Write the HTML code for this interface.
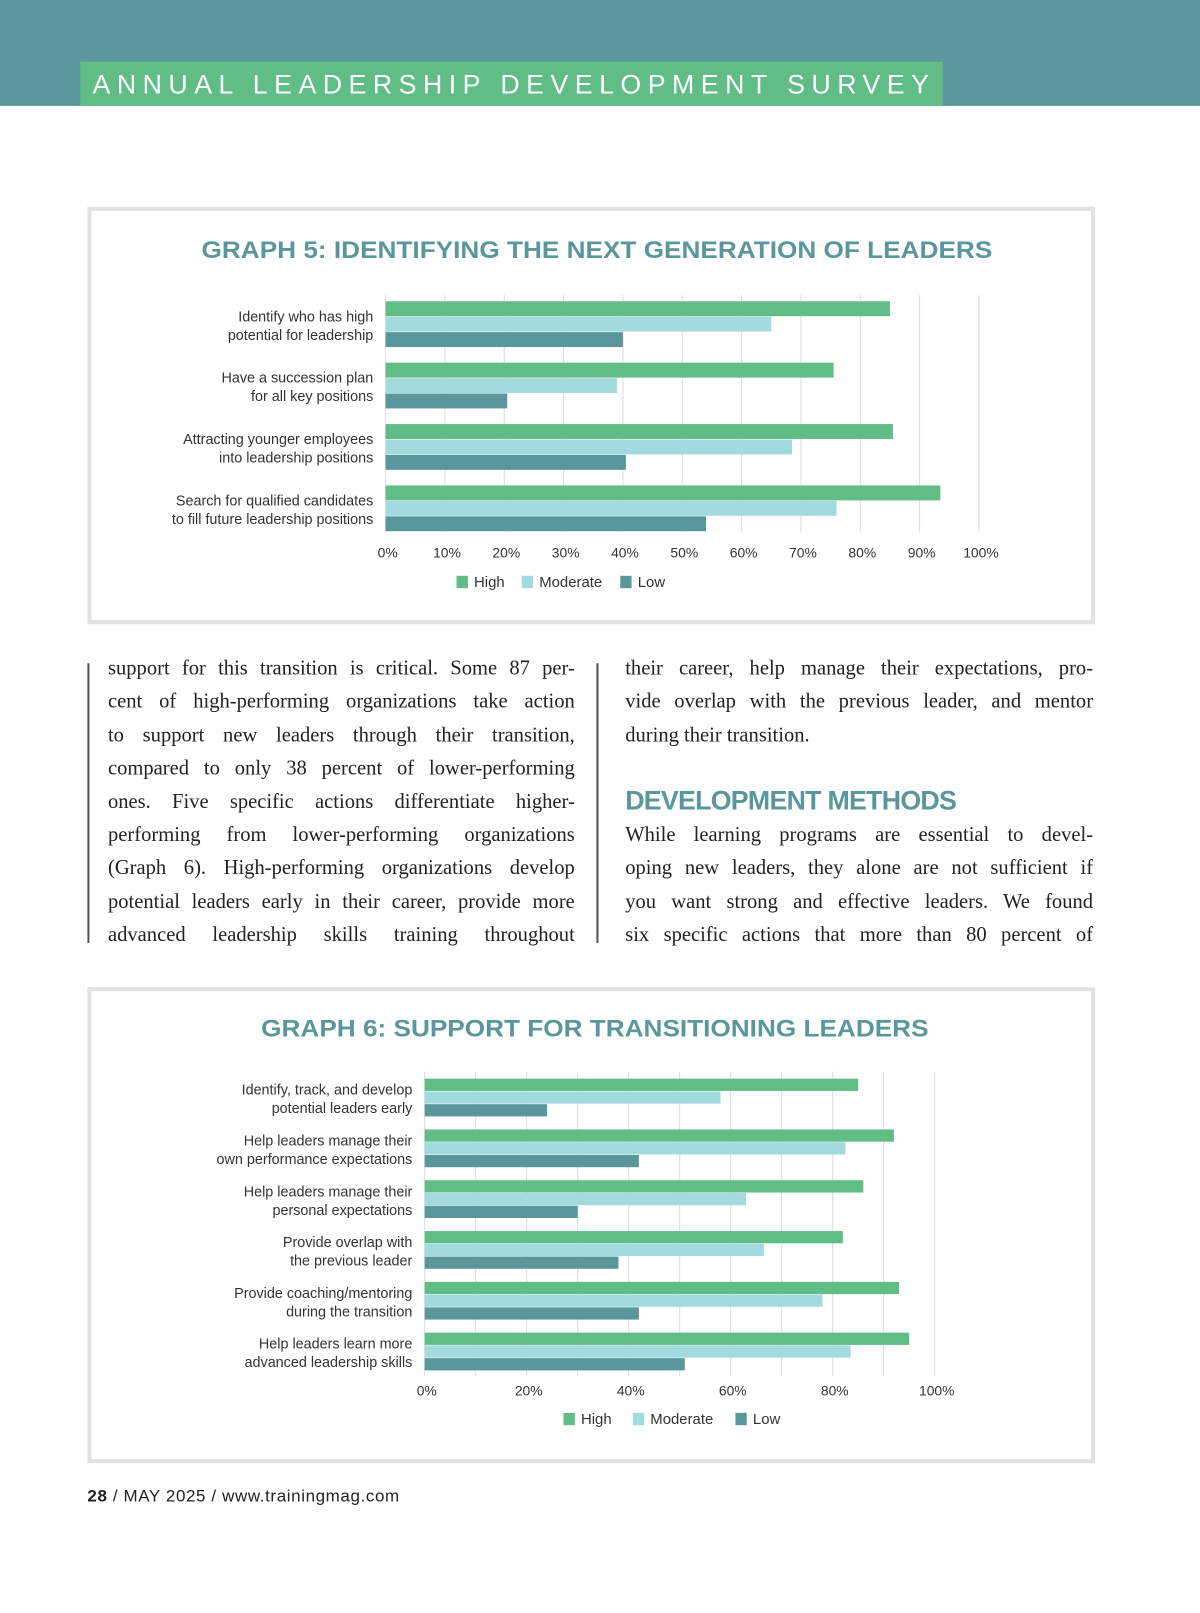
<!DOCTYPE html>
<html><head><meta charset="utf-8">
<style>
html,body{margin:0;padding:0;background:#fff;width:1200px;height:1613px;overflow:hidden}
#wrap{position:absolute;left:0;top:0;width:1167px;height:1569px;transform:scale(1.02828);transform-origin:0 0;font-family:"Liberation Sans",sans-serif}
.abs{position:absolute}
.col{position:absolute;font-family:"Liberation Serif",serif;font-size:20px;color:#222;line-height:32.4px}
.col div{text-align:justify;text-align-last:justify;white-space:nowrap;height:32.4px}
.col div.l{text-align-last:left}
.box{position:absolute;border:4px solid #e2e2e2;background:#fff;box-sizing:border-box}
</style></head><body>
<div id="wrap">
<div class="abs" style="left:0;top:0;width:1167px;height:103px;background:#5b979d"></div>
<div class="abs" style="left:78px;top:60px;width:839px;height:43px;background:#5fbd85;color:#fff;font-size:26px;letter-spacing:6.3px;line-height:44px;padding-left:12px;box-sizing:border-box;white-space:nowrap;overflow:hidden">ANNUAL LEADERSHIP DEVELOPMENT SURVEY</div>

<div class="box" style="left:85px;top:201px;width:980px;height:406px"></div>
<svg class="abs" id="g5" style="left:0;top:0" width="1167" height="620"></svg>

<div class="abs" style="left:85px;top:645px;width:1.5px;height:272px;background:#555"></div>
<div class="abs" style="left:580px;top:645px;width:1.5px;height:272px;background:#555"></div>
<div class="col" style="left:105px;top:634px;width:454px">
<div>support for this transition is critical. Some 87 per-</div>
<div>cent of high-performing organizations take action</div>
<div>to support new leaders through their transition,</div>
<div>compared to only 38 percent of lower-performing</div>
<div>ones. Five specific actions differentiate higher-</div>
<div>performing from lower-performing organizations</div>
<div>(Graph 6). High-performing organizations develop</div>
<div>potential leaders early in their career, provide more</div>
<div>advanced leadership skills training throughout</div>
</div>
<div class="col" style="left:608px;top:634px;width:455px">
<div>their career, help manage their expectations, pro-</div>
<div>vide overlap with the previous leader, and mentor</div>
<div class="l">during their transition.</div>
</div>
<div class="abs" style="left:608px;top:763px;font-size:26px;font-weight:bold;color:#5a979d;letter-spacing:-0.7px">DEVELOPMENT METHODS</div>
<div class="col" style="left:608px;top:796px;width:455px">
<div>While learning programs are essential to devel-</div>
<div>oping new leaders, they alone are not sufficient if</div>
<div>you want strong and effective leaders. We found</div>
<div>six specific actions that more than 80 percent of</div>
</div>

<div class="box" style="left:85px;top:960px;width:980px;height:463px"></div>
<svg class="abs" id="g6" style="left:0;top:0" width="1167" height="1430"></svg>

<div class="abs" style="left:85px;top:1446px;font-size:16.5px;color:#222;letter-spacing:0.6px"><b>28</b> / MAY 2025 / www.trainingmag.com</div>
</div>
<script>
const seriesNames=["High","Moderate","Low"];
const colors=["#5fbd85","#a3dade","#5a979d"];
const g5Cats=[["Identify who has high","potential for leadership"],["Have a succession plan","for all key positions"],["Attracting younger employees","into leadership positions"],["Search for qualified candidates","to fill future leadership positions"]];
const g5High=[85,75.5,85.5,93.5];
const g5Mod=[65,39,68.5,76];
const g5Low=[40,20.5,40.5,54];
const g5Ticks=[0,10,20,30,40,50,60,70,80,90,100];
const g6Cats=[["Identify, track, and develop","potential leaders early"],["Help leaders manage their","own performance expectations"],["Help leaders manage their","personal expectations"],["Provide overlap with","the previous leader"],["Provide coaching/mentoring","during the transition"],["Help leaders learn more","advanced leadership skills"]];
const g6High=[85,92,86,82,93,95];
const g6Mod=[58,82.5,63,66.5,78,83.5];
const g6Low=[24,42,30,38,42,51];
const g6Ticks=[0,20,40,60,80,100];
const g6Grid=[0,10,20,30,40,50,60,70,80,90,100];
const NS="http://www.w3.org/2000/svg";
function mk(svg,tag,attrs,text){const e=document.createElementNS(NS,tag);for(const k in attrs)e.setAttribute(k,attrs[k]);if(text!==undefined)e.textContent=text;svg.appendChild(e);return e;}
function chart(svg,o){
  const x=v=>o.x0+(o.x1-o.x0)*v/100;
  const t=mk(svg,'text',{x:o.tx,y:o.ty,'font-size':o.tfs,'font-weight':'bold',fill:'#5a979d','font-family':'Liberation Sans, sans-serif',textLength:o.tw,lengthAdjust:'spacingAndGlyphs'},o.title);
  
  
  o.grid.forEach(g=>{const l=mk(svg,'line',{x1:x(g),x2:x(g),y1:o.gTop,y2:o.gBot,stroke:'#dcdcdc','stroke-width':1});
    
    });
  const series=[o.high,o.mod,o.low];
  o.cats.forEach((c,i)=>{
    const gy=o.y0+i*o.step;
    series.forEach((s,j)=>{const r=mk(svg,'rect',{x:x(0),y:gy+j*o.bh,width:x(s[i])-x(0),height:o.bh-0.5,fill:colors[j]});
      
      });
    c.forEach((ln,k)=>{const tt=mk(svg,'text',{x:x(0)-12,y:gy+o.bh*1.5+(k===0?-3:o.lfs+1),'text-anchor':'end','font-size':o.lfs,fill:'#333','font-family':'Liberation Sans, sans-serif'},ln);
      
      });
  });
  o.ticks.forEach(v=>{const tt=mk(svg,'text',{x:x(v)+2,y:o.tickY,'text-anchor':'middle','font-size':13.5,fill:'#333','font-family':'Liberation Sans, sans-serif'},v+'%');
    
    });
  let lx=o.legX;
  seriesNames.forEach((n,j)=>{const r=mk(svg,'rect',{x:lx,y:o.legY-11,width:11,height:12,fill:colors[j]});
    
    
    const tt=mk(svg,'text',{x:lx+17,y:o.legY,'font-size':14.5,fill:'#333','font-family':'Liberation Sans, sans-serif'},n);
    
    
    lx+=17+n.length*8.1+o.legGap;});
}
chart(document.getElementById('g5'),{title:'GRAPH 5: IDENTIFYING THE NEXT GENERATION OF LEADERS',tx:196,tw:769,ty:251,tfs:23,x0:375,x1:952,gTop:287,gBot:517,y0:293,step:59.7,bh:15,cats:g5Cats,high:g5High,mod:g5Mod,low:g5Low,grid:g5Ticks,ticks:g5Ticks,tickY:542,legX:444,legY:571,lfs:14,legGap:14});
chart(document.getElementById('g6'),{title:'GRAPH 6: SUPPORT FOR TRANSITIONING LEADERS',tx:254,tw:649,ty:1008,tfs:23,x0:413,x1:909,gTop:1042,gBot:1338,y0:1049,step:49.4,bh:12.4,cats:g6Cats,high:g6High,mod:g6Mod,low:g6Low,grid:g6Grid,ticks:g6Ticks,tickY:1357,legX:548,legY:1385,lfs:14,legGap:18});
</script>
</body></html>
